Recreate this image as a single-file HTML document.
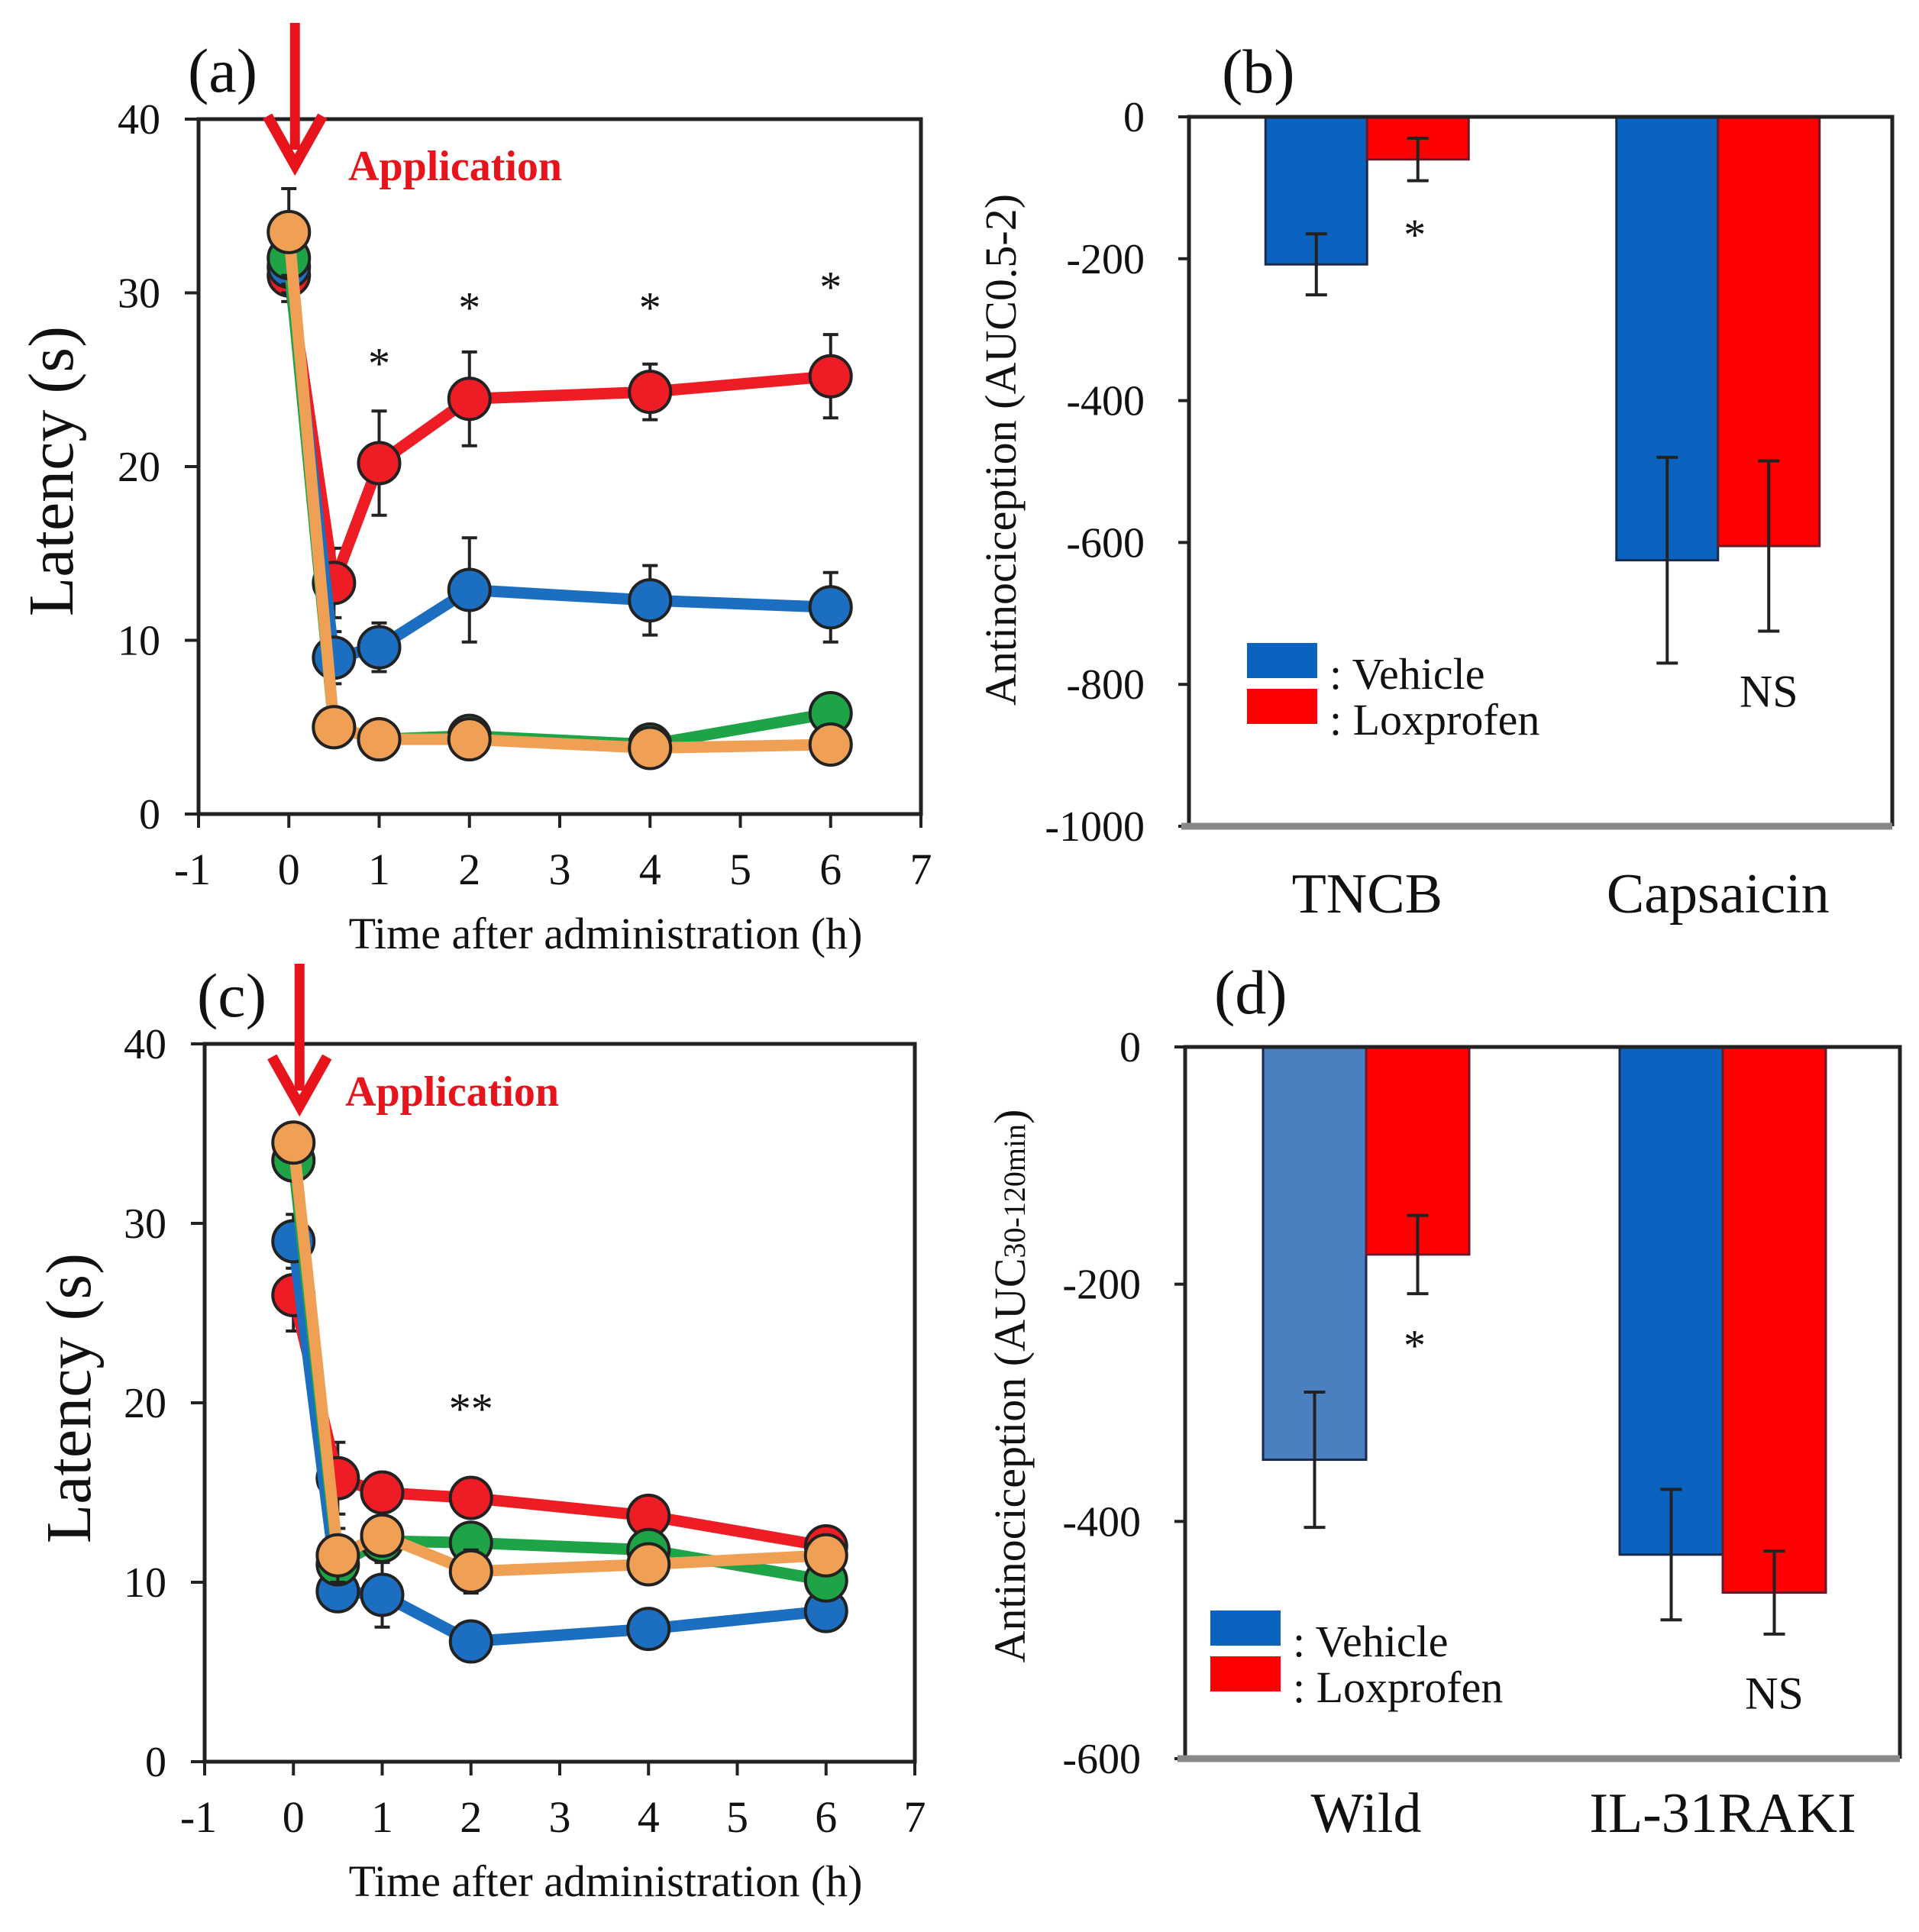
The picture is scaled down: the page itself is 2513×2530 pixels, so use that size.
<!DOCTYPE html>
<html><head><meta charset="utf-8"><style>
html,body{margin:0;padding:0;background:#fff}
svg{display:block}
text{font-family:"Liberation Serif",serif;fill:#111}
</style></head><body>
<svg id="fig" width="2513" height="2530" viewBox="0 0 2513 2530" xmlns="http://www.w3.org/2000/svg"></svg>
<script>
// ---------- data ----------
const timePoints = [0, 0.5, 1, 2, 4, 6];
const xTicks = [-1,0,1,2,3,4,5,6,7];
const latTicks = [0,10,20,30,40];
// panel (a)
const aRed = [31, 13.3, 20.2, 23.9, 24.3, 25.2];
const aRedErr = [1.5, 2, 3, 2.7, 1.6, 2.4];
const aBlue = [31.5, 9, 9.6, 12.9, 12.3, 11.9];
const aBlueErr = [1.5, 1.5, 1.4, 3, 2, 2];
const aGreen = [32, 5, 4.3, 4.5, 4.0, 5.8];
const aGreenErr = [1.5, 0.5, 0.4, 0.4, 0.4, 0.5];
const aOrange = [33.5, 5, 4.3, 4.3, 3.8, 4.0];
const aOrangeErr = [2.5, 0.5, 0.4, 0.4, 0.4, 0.4];
const aStarX = [1, 2, 4, 6];
const aStarY = [26.4, 29.6, 29.6, 30.8];
// panel (c)
const cRed = [26, 15.8, 15, 14.7, 13.7, 12];
const cRedErr = [2, 2, 0.8, 0.6, 0.6, 0.6];
const cBlue = [29, 9.5, 9.3, 6.7, 7.4, 8.4];
const cBlueErr = [1.5, 1, 1.8, 0.5, 0.5, 0.5];
const cGreen = [33.5, 11, 12.3, 12.2, 11.8, 10.1];
const cGreenErr = [1, 1, 1, 0.8, 0.8, 0.6];
const cOrange = [34.5, 11.5, 12.6, 10.6, 11.0, 11.5];
const cOrangeErr = [1, 1.5, 1, 1.2, 1, 0.6];
const cStarX = [2];
const cStarY = [20.1];
// panel (b)
const bCategories = ["TNCB", "Capsaicin"];
const bVehicle = [-208, -625];
const bVehicleErr = [43, 145];
const bLox = [-60, -605];
const bLoxErr = [30, 120];
const bTicks = [0,-200,-400,-600,-800,-1000];
// panel (d)
const dCategories = ["Wild", "IL-31RAKI"];
const dVehicle = [-348, -428];
const dVehicleErr = [57, 55];
const dLox = [-175, -460];
const dLoxErr = [33, 35];
const dTicks = [0,-200,-400,-600];

// ---------- helpers ----------
const NS = "http://www.w3.org/2000/svg";
const svg = document.getElementById('fig');
function mk(tag, attrs, parent, txt){
  const e = document.createElementNS(NS, tag);
  for (const k in attrs) e.setAttribute(k, attrs[k]);
  if (txt !== undefined) e.textContent = txt;
  (parent || svg).appendChild(e);
  return e;
}
function lin(d0,d1,r0,r1){ return v => r0 + (v-d0)*(r1-r0)/(d1-d0); }

function linePanel(cfg){
  const g = mk('g', {});
  
  
  const X = lin(-1,7,cfg.L,cfg.R), Y = lin(0,40,cfg.B,cfg.T);
  const fr = mk('rect',{x:cfg.L,y:cfg.T,width:cfg.R-cfg.L,height:cfg.B-cfg.T,fill:'none',stroke:'#222','stroke-width':5},g);
   
  latTicks.forEach(v=>{
    mk('line',{x1:cfg.L-18,x2:cfg.L,y1:Y(v),y2:Y(v),stroke:'#222','stroke-width':4},g);
    const t = mk('text',{x:cfg.L-50,y:Y(v)+19,'text-anchor':'end','font-size':56},g,String(v));
     
  });
  xTicks.forEach(v=>{
    mk('line',{x1:X(v),x2:X(v),y1:cfg.B,y2:cfg.B+18,stroke:'#222','stroke-width':4},g);
    const t = mk('text',{x:X(v)-(v<0?8:0),y:cfg.B+92,'text-anchor':'middle','font-size':58},g,String(v));
     
  });
  const xt = mk('text',{x:(cfg.L+cfg.R)/2+60,y:cfg.B+176,'text-anchor':'middle','font-size':58},g,'Time after administration (h)');
   
  const yt = mk('text',{x:cfg.ytx,y:cfg.yty,'text-anchor':'middle','font-size':84,transform:`rotate(-90 ${cfg.ytx} ${cfg.yty})`},g,'Latency (s)');
   
  const pl = mk('text',{x:cfg.labX,y:cfg.labY,'font-size':82},g,cfg.label);
   
  cfg.series.forEach(s=>{
    const sg = mk('g',{},g);
    
    
    s.vals.forEach((v,i)=>{
      const x = X(timePoints[i]);
      const e = mk('path',{d:`M${x} ${Y(v-s.err[i])}V${Y(v+s.err[i])}M${x-10} ${Y(v-s.err[i])}h20M${x-10} ${Y(v+s.err[i])}h20`,stroke:'#222','stroke-width':4,fill:'none'},sg);
       
    });
    const pts = s.vals.map((v,i)=>X(timePoints[i])+','+Y(v)).join(' ');
    const pl2 = mk('polyline',{points:pts,fill:'none',stroke:s.color,'stroke-width':15,'stroke-linejoin':'round'},sg);
     
    s.vals.forEach((v,i)=>{
      const c = mk('circle',{cx:X(timePoints[i]),cy:Y(v),r:27,fill:s.color,stroke:'#222','stroke-width':4},sg);
       
    });
  });
  cfg.starX.forEach((sx,i)=>{
    const t = mk('text',{x:X(sx),y:Y(cfg.starY[i])+30,'text-anchor':'middle','font-size':58},g,cfg.star);
     
  });
  const ax = X(0)+8;
  const ar = mk('g',{},g);
   
  mk('line',{x1:ax,x2:ax,y1:cfg.arTop,y2:cfg.arTip-20,stroke:'#e8141c','stroke-width':13},ar);
  mk('path',{d:`M${ax-36} ${cfg.arTip-64}L${ax} ${cfg.arTip}L${ax+36} ${cfg.arTip-64}`,fill:'none',stroke:'#e8141c','stroke-width':14},ar);
  const ap = mk('text',{x:cfg.appX,y:cfg.appY,'font-size':56,'font-weight':'bold',style:'fill:#e8141c'},g,'Application');
   
}

function barPanel(cfg){
  const g = mk('g',{});
  
  
  const Y = lin(0,cfg.min,cfg.T,cfg.B);
  cfg.ticks.forEach(v=>{
    mk('line',{x1:cfg.L-14,x2:cfg.L,y1:Y(v),y2:Y(v),stroke:'#222','stroke-width':4},g);
    const t = mk('text',{x:cfg.L-58,y:Y(v)+19,'text-anchor':'end','font-size':56},g,String(v));
     
  });
  const span = (cfg.R-cfg.L)/2;
  cfg.cats.forEach((c,i)=>{
    const cx = cfg.L + span*(i+0.5) + (i===0?3:2);
    const bw = cfg.bw;
    const vx = cx-bw, lx = cx;
    const vb = mk('rect',{x:vx,y:cfg.T,width:bw,height:Y(cfg.veh[i])-cfg.T,fill:(i===0?cfg.veh0Color:'#0a64bf'),stroke:'#1a2a4a','stroke-width':3},g);
     
    const lb = mk('rect',{x:lx,y:cfg.T,width:bw,height:Y(cfg.lox[i])-cfg.T,fill:'#fe0000',stroke:'#6a1a2a','stroke-width':3},g);
     
    [[vx+bw/2,cfg.veh[i],cfg.vehErr[i]],[lx+bw/2,cfg.lox[i],cfg.loxErr[i]]].forEach(([x,v,e])=>{
      const eb = mk('path',{d:`M${x} ${Y(v-e)}V${Y(v+e)}M${x-14} ${Y(v-e)}h28M${x-14} ${Y(v+e)}h28`,stroke:'#222','stroke-width':4,fill:'none'},g);
       
    });
    const cl = mk('text',{x:cx,y:cfg.catY,'text-anchor':'middle','font-size':74},g,c);
     
    if(i===0){
      const s = mk('text',{x:lx+bw/2-4,y:Y(cfg.starV)+30,'text-anchor':'middle','font-size':58},g,'*');
       
    } else {
      const s = mk('text',{x:lx+bw/2,y:Y(cfg.nsV)+20,'text-anchor':'middle','font-size':60},g,'NS');
       
    }
  });
  mk('path',{d:`M${cfg.L} ${cfg.B}V${cfg.T}H${cfg.R}V${cfg.B}`,fill:'none',stroke:'#222','stroke-width':5},g);
  const xa = mk('line',{x1:cfg.L-10,x2:cfg.R,y1:cfg.B,y2:cfg.B,stroke:'#888','stroke-width':9},g);
   
  const lg = mk('g',{},g);
   
  mk('rect',{x:cfg.legX,y:cfg.legY,width:92,height:46,fill:'#0a64bf'},lg);
  mk('rect',{x:cfg.legX,y:cfg.legY+60,width:92,height:46,fill:'#fe0000'},lg);
  const l1 = mk('text',{x:cfg.legX+108,y:cfg.legY+60,'font-size':58},lg,': Vehicle');
   
  const l2 = mk('text',{x:cfg.legX+108,y:cfg.legY+120,'font-size':58},lg,': Loxprofen');
   
  const yt = mk('text',{x:cfg.ytx,y:cfg.yty,'text-anchor':'middle','font-size':58,transform:`rotate(-90 ${cfg.ytx} ${cfg.yty})`},g);
   
  yt.appendChild(document.createTextNode('Antinociception (AUC'));
  mk('tspan',{'font-size':cfg.subSize},yt,cfg.sub);
  yt.appendChild(document.createTextNode(')'));
  const pl = mk('text',{x:cfg.labX,y:cfg.labY,'font-size':82},g,cfg.label);
   
}

linePanel({name:'panel-a-latency-chart',L:260,R:1206,T:156,B:1066,label:'(a)',labX:246,labY:120,ytx:95,yty:617,
  series:[{name:'series-red',vals:aRed,err:aRedErr,color:'#ee1c24'},{name:'series-blue',vals:aBlue,err:aBlueErr,color:'#1c6fc0'},
          {name:'series-green',vals:aGreen,err:aGreenErr,color:'#1fa347'},{name:'series-orange',vals:aOrange,err:aOrangeErr,color:'#f0a055'}],
  starX:aStarX,starY:aStarY,star:'*',arTop:30,arTip:216,appX:456,appY:236});
linePanel({name:'panel-c-latency-chart',L:268,R:1198,T:1367,B:2307,label:'(c)',labX:258,labY:1331,ytx:118,yty:1831,
  series:[{name:'series-red',vals:cRed,err:cRedErr,color:'#ee1c24'},{name:'series-blue',vals:cBlue,err:cBlueErr,color:'#1c6fc0'},
          {name:'series-green',vals:cGreen,err:cGreenErr,color:'#1fa347'},{name:'series-orange',vals:cOrange,err:cOrangeErr,color:'#f0a055'}],
  starX:cStarX,starY:cStarY,star:'**',arTop:1262,arTip:1448,appX:452,appY:1448});
barPanel({name:'panel-b-bar-chart',L:1557,R:2478,T:153,B:1082,min:-1000,ticks:bTicks,cats:bCategories,veh:bVehicle,vehErr:bVehicleErr,
  lox:bLox,loxErr:bLoxErr,bw:133,veh0Color:'#0a64bf',catY:1195,starV:-155,nsV:-810,legX:1633,legY:842,ytx:1330,yty:589,
  sub:'0.5-2',subSize:58,label:'(b)',labX:1600,labY:121});
barPanel({name:'panel-d-bar-chart',L:1552,R:2488,T:1371,B:2303,min:-600,ticks:dTicks,cats:dCategories,veh:dVehicle,vehErr:dVehicleErr,
  lox:dLox,loxErr:dLoxErr,bw:135,veh0Color:'#4a7fc0',catY:2399,starV:-245,nsV:-545,legX:1585,legY:2109,ytx:1342,yty:1815,
  sub:'30-120min',subSize:40,label:'(d)',labX:1590,labY:1327});
</script>
</body></html>
